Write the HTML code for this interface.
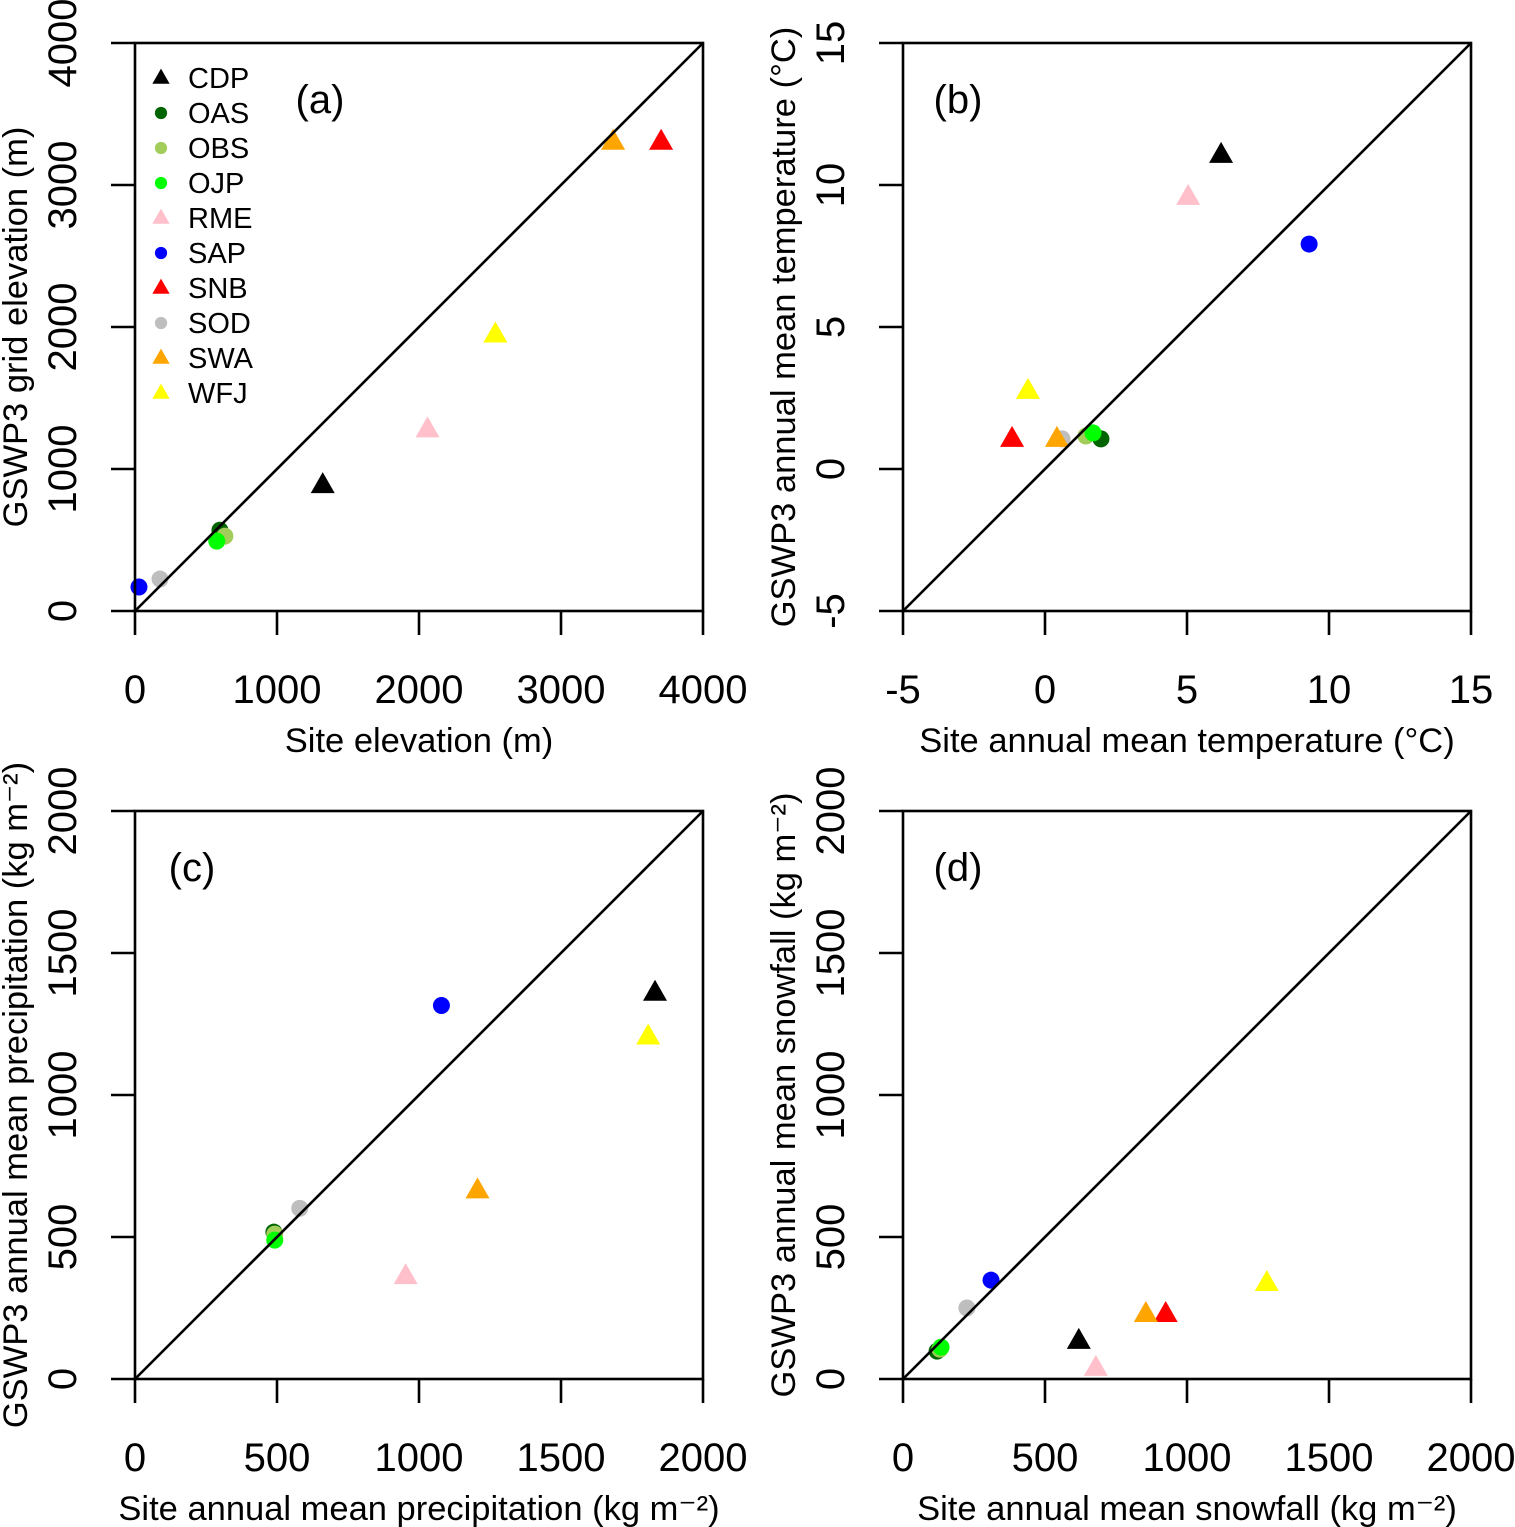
<!DOCTYPE html>
<html><head><meta charset="utf-8"><style>
body{margin:0;background:#fff;}
svg{display:block;font-family:"Liberation Sans",sans-serif;}
</style></head><body>
<svg id="fig" width="1515" height="1527" viewBox="0 0 1515 1527"></svg>
<script>
const sites = ["CDP","OAS","OBS","OJP","RME","SAP","SNB","SOD","SWA","WFJ"];
const colors = ["#000000","#006400","#a2cd5a","#00ff00","#ffc0cb","#0000ff","#ff0000","#bebebe","#ffa500","#ffff00"];
const shapes = ["tri","dot","dot","dot","tri","dot","tri","dot","tri","tri"];
const elevSite = [1322,598,633,576,2060,28,3705,176,3367,2538];
const elevGrid = [886,569,527,492,1279,169,3304,225,3304,1947];
const tempSite = [6.2,1.97,1.44,1.69,5.04,9.3,-1.16,0.6,0.42,-0.6];
const tempGrid = [11.06,1.06,1.16,1.27,9.58,7.92,1.06,1.06,1.06,2.75];
const precSite = [1831,489,492,492,953,1079,null,580,1206,1807];
const precGrid = [1360,517,510,489,362,1315,null,601,664,1206];
const snowSite = [619,120,130,134,679,310,925,225,855,1281];
const snowGrid = [134,98,105,112,39,348,229,250,229,338];
const ticksElev = [0,1000,2000,3000,4000];
const ticksTemp = [-5,0,5,10,15];
const ticksPrec = [0,500,1000,1500,2000];

const NS="http://www.w3.org/2000/svg";
const svg=document.getElementById('fig');
function mk(tag,attrs,parent){const e=document.createElementNS(NS,tag);for(const k in attrs)e.setAttribute(k,attrs[k]);(parent||svg).appendChild(e);return e;}

const panels=[
 {id:"a",L:135,T:43,xs:elevSite,ys:elevGrid,ticks:ticksElev,xt:"Site elevation (m)",yt:"GSWP3 grid elevation (m)",lab:"(a)",lx:320,legend:true},
 {id:"b",L:903,T:43,xs:tempSite,ys:tempGrid,ticks:ticksTemp,xt:"Site annual mean temperature (°C)",yt:"GSWP3 annual mean temperature (°C)",lab:"(b)",lx:958},
 {id:"c",L:135,T:811,xs:precSite,ys:precGrid,ticks:ticksPrec,xt:"Site annual mean precipitation (kg m⁻²)",yt:"GSWP3 annual mean precipitation (kg m⁻²)",lab:"(c)",lx:192},
 {id:"d",L:903,T:811,xs:snowSite,ys:snowGrid,ticks:ticksPrec,xt:"Site annual mean snowfall (kg m⁻²)",yt:"GSWP3 annual mean snowfall (kg m⁻²)",lab:"(d)",lx:958}
];
const W=568,H=568;
function marker(g,shape,x,y,c,s){
  if(shape==="dot"){const e=mk('circle',{cx:x,cy:y,r:8.5*s,fill:c},g);return e;}
  const w=12*s,h=21*s;
  return mk('polygon',{points:`${x},${y-h*0.62} ${x-w},${y+h*0.38} ${x+w},${y+h*0.38}`,fill:c},g);
}
panels.forEach(p=>{
  const g=mk('g',{});
  
  
  const lo=p.ticks[0],hi=p.ticks[p.ticks.length-1];
  const sx=v=>p.L+(v-lo)/(hi-lo)*W;
  const sy=v=>p.T+H-(v-lo)/(hi-lo)*H;
  for(let i=0;i<sites.length;i++){
    if(p.xs[i]==null)continue;
    const m=marker(g,shapes[i],sx(p.xs[i]),sy(p.ys[i]),colors[i],1);
    
    
  }
  const one=mk('line',{x1:sx(lo),y1:sy(lo),x2:sx(hi),y2:sy(hi),stroke:"#000","stroke-width":2.6},g);
  
  
  const box=mk('rect',{x:p.L,y:p.T,width:W,height:H,fill:"none",stroke:"#000","stroke-width":2.6},g);
  
  
  p.ticks.forEach(t=>{
    mk('line',{x1:sx(t),y1:p.T+H,x2:sx(t),y2:p.T+H+24,stroke:"#000","stroke-width":2.6},g);
    const tx=mk('text',{x:sx(t),y:p.T+H+92,"font-size":40,"text-anchor":"middle"},g);
    tx.textContent=t;
    
    
    mk('line',{x1:p.L,y1:sy(t),x2:p.L-24,y2:sy(t),stroke:"#000","stroke-width":2.6},g);
    const ty=mk('text',{x:0,y:0,"font-size":40,"text-anchor":"middle",transform:`translate(${p.L-59},${sy(t)}) rotate(-90)`},g);
    ty.textContent=t;
    
    
  });
  const xt=mk('text',{x:p.L+W/2,y:p.T+H+141,"font-size":34.5,"text-anchor":"middle"},g);
  xt.textContent=p.xt;
  
  
  const yt=mk('text',{x:0,y:0,"font-size":34.5,"text-anchor":"middle",transform:`translate(${p.L-108},${p.T+H/2}) rotate(-90)`},g);
  yt.textContent=p.yt;
  
  
  const lb=mk('text',{x:p.lx,y:p.T+70,"font-size":40,"text-anchor":"middle"},g);
  lb.textContent=p.lab;
  
  
  if(p.legend){
    const lg=mk('g',{},g);
    
    
    sites.forEach((s,i)=>{
      const y=78+i*35;
      marker(lg,shapes[i],161,y,colors[i],0.72);
      const t=mk('text',{x:188,y:y+10,"font-size":29},lg);
      t.textContent=s;
      
      
    });
  }
});
</script>
</body></html>
